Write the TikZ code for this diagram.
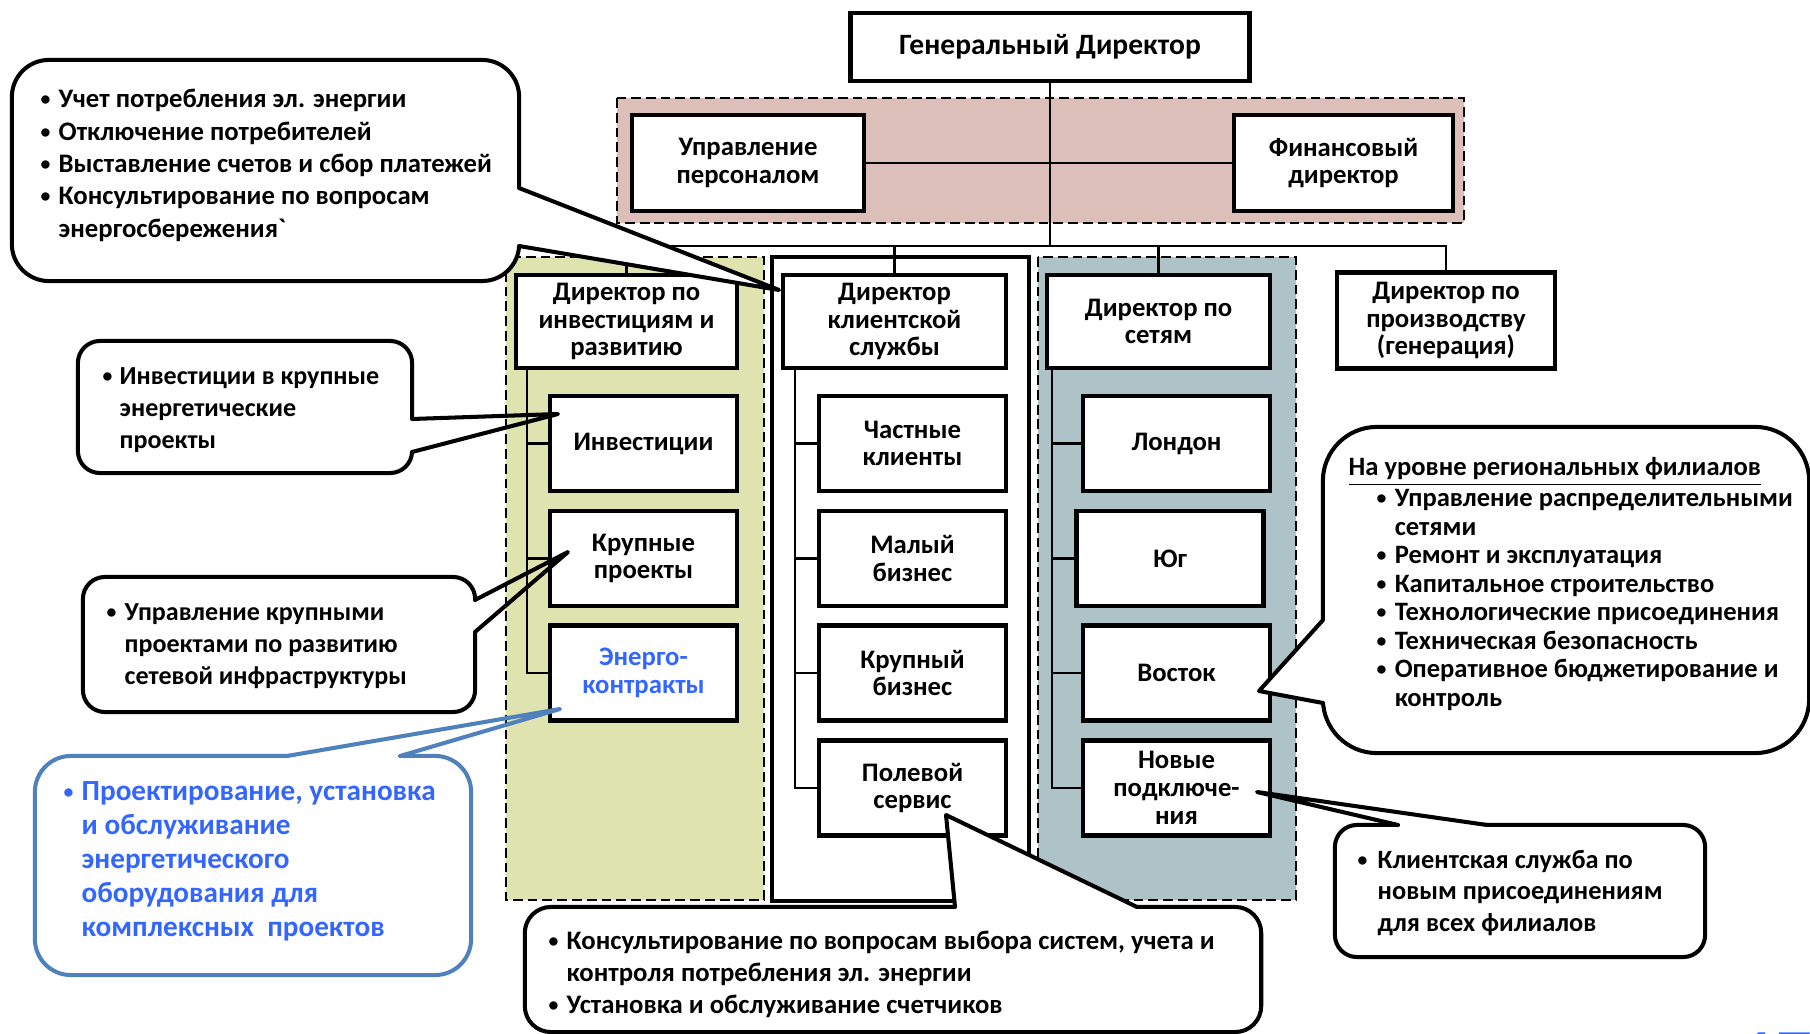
\documentclass[tikz,border=0pt]{standalone}
\usepackage{fontspec}
\setmainfont{Carlito}
\usepackage{array}

\definecolor{pinkfill}{RGB}{221,191,185}
\definecolor{greenfill}{RGB}{223,227,175}
\definecolor{greyfill}{RGB}{173,195,200}
\definecolor{noteblue}{RGB}{79,129,189}
\definecolor{textblue}{RGB}{51,102,255}

\newcommand{\bul}{\raisebox{0.55pt}{\fontsize{5.6}{5.6}\selectfont•}}

\tikzset{
  box/.style={draw, fill=white, line width=1.3pt, inner sep=0pt, align=center,
    minimum width=1.87cm, minimum height=0.95cm,
    font=\fontsize{7.6}{7.9}\selectfont\bfseries},
  conn/.style={line width=0.6pt},
  region/.style={draw, line width=0.7pt, dash pattern=on 2.8pt off 1.4pt},
  note/.style={draw, fill=white, line width=1.15pt, inner sep=0pt},
  pointer/.style={line width=1.15pt, line join=round, line cap=round},
  notetext/.style={anchor=west, inner sep=0pt,
    font=\fontsize{7.5}{9.1}\selectfont\bfseries}
}

\begin{document}
\begin{tikzpicture}[x=0.01cm, y=-0.01cm]
\useasboundingbox (0,0) rectangle (1810,1034);

% callouts left of the green column (body first, tips later)
\node[note, rounded corners=0.22cm, minimum width=3.34cm, minimum height=1.32cm] (n2) at (245,407) {};
\node[note, rounded corners=0.22cm, minimum width=3.92cm, minimum height=1.35cm] (n3) at (279,644.5) {};
\node[note, draw=noteblue, rounded corners=0.36cm, minimum width=4.36cm, minimum height=2.19cm] (n4) at (253,865.5) {};
\coordinate (n2a) at (412,419); \coordinate (n2b) at (412,452); \coordinate (n2t) at (558,414);
\coordinate (n3a) at (475,600); \coordinate (n3b) at (475,632); \coordinate (n3t) at (568,552);
\coordinate (n4a) at (287,756); \coordinate (n4b) at (400,756); \coordinate (n4t) at (560,709);
\fill[white] (n2a) -- (n2t) -- (n2b) -- ([xshift=-0.04cm]n2b) -- ([xshift=-0.04cm]n2a) -- cycle;
\fill[white] (n3a) -- (n3t) -- (n3b) -- ([xshift=-0.04cm]n3b) -- ([xshift=-0.04cm]n3a) -- cycle;
\fill[white] (n4a) -- (n4t) -- (n4b) -- ([yshift=-0.04cm]n4b) -- ([yshift=-0.04cm]n4a) -- cycle;

\node[notetext, font=\fontsize{7.4}{9.1}\selectfont\bfseries] (n2txt) at (102,410) {\begin{tabular}{@{}p{0.17cm}@{}l@{}}
  \bul & Инвестиции в крупные\\ & энергетические\\ & проекты\end{tabular}};
\node[notetext, font=\fontsize{7.4}{9.1}\selectfont\bfseries] (n3txt) at (106,646.5) {\begin{tabular}{@{}p{0.18cm}@{}l@{}}
  \bul & Управление крупными\\ & проектами по развитию\\ & сетевой инфраструктуры\end{tabular}};
\node[notetext, text=textblue, font=\fontsize{8.3}{9.65}\selectfont\bfseries] (n4txt) at (63,862) {\begin{tabular}{@{}p{0.18cm}@{}l@{}}
  \bul & Проектирование, установка\\ & и обслуживание\\ & энергетического\\
  & оборудования для\\ & комплексных~ проектов\end{tabular}};

% shaded groups
\filldraw[region, fill=pinkfill] (617,98) rectangle (1464,223);
\filldraw[region, fill=greenfill] (506,257) rectangle (764,900);
\filldraw[region, fill=greyfill] (1038,257) rectangle (1296,900);
\filldraw[fill=white, line width=1.3pt] (772,257) rectangle (1029,901);

\begin{scope}[every node/.style={box}]
  \node[font=\fontsize{8.4}{9}\selectfont\bfseries, minimum width=3.99cm, minimum height=0.68cm] (gd) at (1050,47) {Генеральный Директор};
  \node[minimum width=2.32cm, minimum height=0.96cm] (hr) at (748,163) {Управление\\персоналом};
  \node[minimum width=2.19cm, minimum height=0.96cm] (fin) at (1343.5,163) {Финансовый\\директор};

  \node[minimum width=2.21cm, minimum height=0.93cm] (di) at (626.5,321.5) {Директор по\\инвестициям и\\развитию};
  \node[minimum width=2.23cm, minimum height=0.93cm] (dks) at (894.5,321.5) {Директор\\клиентской\\службы};
  \node[minimum width=2.23cm, minimum height=0.93cm] (ds) at (1158.5,321.5) {Директор по\\сетям};
  \node[minimum width=2.18cm, minimum height=0.96cm] (dp) at (1446,320.5) {Директор по\\производству\\(генерация)};

  \node (inv) at (643.5,443.5) {Инвестиции};
  \node (kp) at (643.5,558.5) {Крупные\\проекты};
  \node[text=textblue] (ek) at (643.5,673) {Энерго-\\контракты};

  \node (chk) at (912.5,443.5) {Частные\\клиенты};
  \node (mb) at (912.5,558.5) {Малый\\бизнес};
  \node (kb) at (912.5,673) {Крупный\\бизнес};
  \node (pol) at (912.5,788) {Полевой\\сервис};

  \node (lon) at (1176.5,443.5) {Лондон};
  \node (yug) at (1170,558.5) {Юг};
  \node (vos) at (1176.5,673) {Восток};
  \node (nov) at (1176.5,788) {Новые\\подключе-\\ния};
\end{scope}

\coordinate (bus) at (1050,246);
\begin{scope}[every path/.style={conn}]
  \draw (gd) -- (bus);
  \draw (hr) -- (fin);
  \foreach \d in {di,dks,ds,dp}
    \draw (bus) -| (\d);
  \foreach \s in {inv,kp,ek}
    \draw (di.south west) ++(13,0) |- (\s);
  \foreach \s in {chk,mb,kb,pol}
    \draw (dks.south west) ++(14,0) |- (\s);
  \foreach \s in {lon,yug,vos,nov}
    \draw (ds.south west) ++(7,0) |- (\s);
\end{scope}

\draw[pointer] (n2a) -- (n2t) -- (n2b);
\draw[pointer] (n3a) -- (n3t) -- (n3b);
\draw[pointer, draw=noteblue] (n4a) -- (n4t) -- (n4b);

% callouts on top
\node[note, rounded corners=0.37cm, minimum width=5.07cm, minimum height=2.21cm] (n1) at (265.5,170.5) {};
\coordinate (n1a) at (519,188); \coordinate (n1b) at (519,246); \coordinate (n1t) at (779,290);
\fill[white] (n1a) -- (n1t) -- (n1b) -- ([xshift=-0.04cm]n1b) -- ([xshift=-0.04cm]n1a) -- cycle;
\draw[pointer] (n1a) -- (n1t) -- (n1b);
\node[notetext, font=\fontsize{7.6}{9.2}\selectfont\bfseries] (n1txt) at (40,166) {\begin{tabular}{@{}p{0.18cm}@{}l@{}}
  \bul & Учет потребления эл. энергии\\ \bul & Отключение потребителей\\
  \bul & Выставление счетов и сбор платежей\\ \bul & Консультирование по вопросам\\
  & энергосбережения\textasciigrave\end{tabular}};

\node[note, rounded corners=0.26cm, minimum width=7.36cm, minimum height=1.25cm] (n5) at (893,969.5) {};
\coordinate (n5a) at (955,907); \coordinate (n5b) at (1137,907); \coordinate (n5t) at (946,815);
\fill[white] (n5a) -- (n5t) -- (n5b) -- ([yshift=-0.04cm]n5b) -- ([yshift=-0.04cm]n5a) -- cycle;
\draw[pointer] (n5a) -- (n5t) -- (n5b);
\node[notetext, font=\fontsize{7.6}{9.1}\selectfont\bfseries] (n5txt) at (548,975.5) {\begin{tabular}{@{}p{0.18cm}@{}l@{}}
  \bul & Консультирование по вопросам выбора систем, учета и\\
  & контроля потребления эл. энергии\\ \bul & Установка и обслуживание счетчиков\end{tabular}};

\node[note, rounded corners=0.54cm, minimum width=4.86cm, minimum height=3.26cm] (n6) at (1566,590) {};
\coordinate (n6a) at (1323,620); \coordinate (n6b) at (1323,703); \coordinate (n6t) at (1259,691);
\fill[white] (n6a) -- (n6t) -- (n6b) -- ([xshift=0.04cm]n6b) -- ([xshift=0.04cm]n6a) -- cycle;
\draw[pointer] (n6a) -- (n6t) -- (n6b);
\node[notetext, font=\fontsize{7.55}{8.1}\selectfont\bfseries] (n6txt) at (1348,585) {\begin{tabular}{@{\hspace{0.28cm}}p{0.18cm}@{}l@{}}
  \multicolumn{2}{@{}l@{}}{\underline{На уровне региональных филиалов}}\\
  \bul & Управление распределительными\\ & сетями\\ \bul & Ремонт и эксплуатация\\
  \bul & Капитальное строительство\\ \bul & Технологические присоединения\\
  \bul & Техническая безопасность\\ \bul & Оперативное бюджетирование и\\
  & контроль\end{tabular}};

\node[note, rounded corners=0.22cm, minimum width=3.70cm, minimum height=1.32cm] (n7) at (1520,891) {};
\coordinate (n7a) at (1398,825); \coordinate (n7b) at (1487,825); \coordinate (n7t) at (1257,792);
\fill[white] (n7a) -- (n7t) -- (n7b) -- ([yshift=-0.04cm]n7b) -- ([yshift=-0.04cm]n7a) -- cycle;
\draw[pointer] (n7a) -- (n7t) -- (n7b);
\node[notetext, font=\fontsize{7.5}{9}\selectfont\bfseries] (n7txt) at (1357,893.5) {\begin{tabular}{@{}p{0.2cm}@{}l@{}}
  \bul & Клиентская служба по\\ & новым присоединениям\\ & для всех филиалов\end{tabular}};

\node[anchor=base west, inner sep=0pt, text=textblue, font=\fontsize{20}{20}\selectfont\bfseries] (pg) at (1740,1078) {17};
\end{tikzpicture}
\end{document}
